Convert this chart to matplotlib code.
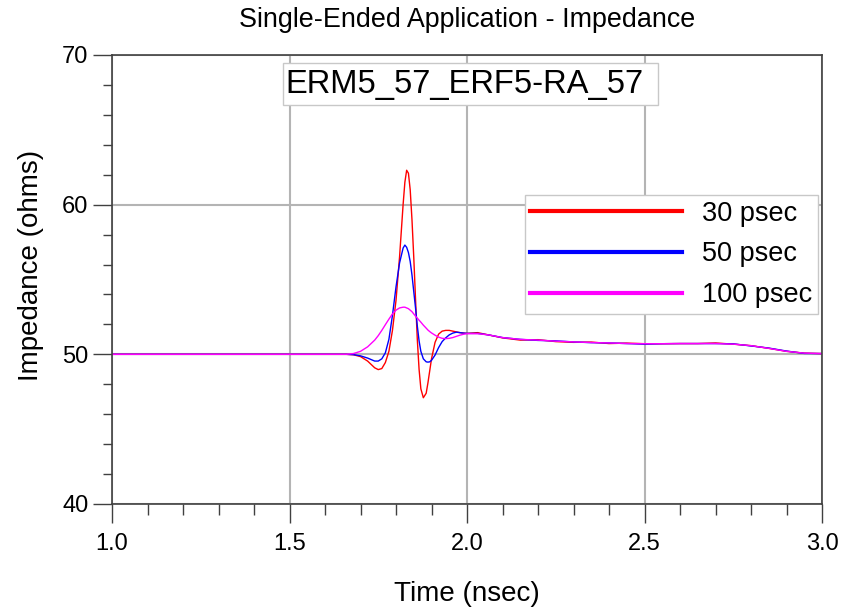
import numpy as np
import matplotlib
matplotlib.use('Agg')
import matplotlib.pyplot as plt
from matplotlib.lines import Line2D
from matplotlib.patches import Rectangle
from matplotlib.ticker import MultipleLocator

plt.rcParams['font.family'] = ['Liberation Sans', 'DejaVu Sans']

# time axis (nsec) shared by the three rise times
time_ns = [1.0, 1.5, 1.6, 1.64, 1.66, 1.68, 1.70, 1.72, 1.74, 1.75,
           1.76, 1.77, 1.78, 1.79, 1.80, 1.81, 1.82, 1.825, 1.83, 1.835,
           1.84, 1.845, 1.85, 1.855, 1.86, 1.865, 1.87, 1.877, 1.885, 1.89,
           1.895, 1.90, 1.91, 1.92, 1.93, 1.94, 1.95, 1.96, 1.97, 1.98,
           1.99, 2.0, 2.03, 2.06, 2.1, 2.15, 2.2, 2.25, 2.3, 2.35,
           2.4, 2.45, 2.5, 2.55, 2.6, 2.65, 2.7, 2.75, 2.8, 2.85,
           2.9, 2.95, 3.0]

z_30ps = [50.0, 50.0, 50.0, 50.0, 50.0, 49.97, 49.85, 49.55, 49.1, 48.98,
          49.05, 49.45, 50.2, 51.6, 53.6, 56.5, 60.0, 61.5, 62.3, 62.1,
          61.0, 59.0, 56.5, 53.7, 51.0, 49.0, 47.7, 47.1, 47.4, 48.1,
          48.9, 49.7, 50.8, 51.35, 51.55, 51.6, 51.6, 51.55, 51.5, 51.45,
          51.42, 51.4, 51.45, 51.3, 51.1, 50.95, 50.98, 50.85, 50.8, 50.82,
          50.72, 50.75, 50.71, 50.71, 50.72, 50.72, 50.76, 50.68, 50.58, 50.4,
          50.2, 50.08, 50.05]

z_50ps = [50.0, 50.0, 50.0, 50.0, 50.0, 49.98, 49.9, 49.75, 49.55, 49.55,
          49.7, 50.1, 51.0, 52.6, 54.5, 56.1, 57.1, 57.3, 57.15, 56.8,
          56.2, 55.3, 54.2, 53.1, 51.9, 50.9, 50.2, 49.7, 49.5, 49.48,
          49.5, 49.6, 49.95, 50.45, 50.85, 51.1, 51.3, 51.42, 51.48, 51.45,
          51.42, 51.4, 51.4, 51.3, 51.12, 51.0, 50.93, 50.9, 50.83, 50.78,
          50.76, 50.72, 50.68, 50.71, 50.72, 50.72, 50.72, 50.7, 50.56, 50.42,
          50.22, 50.06, 50.05]

z_100ps = [50.0, 50.0, 50.0, 50.0, 50.0, 50.05, 50.2, 50.5, 50.95, 51.25,
           51.6, 51.98, 52.35, 52.7, 52.95, 53.1, 53.15, 53.15, 53.1, 53.05,
           52.95, 52.85, 52.7, 52.55, 52.42, 52.28, 52.15, 51.95, 51.75, 51.62,
           51.52, 51.43, 51.28, 51.15, 51.07, 51.05, 51.07, 51.12, 51.2, 51.28,
           51.34, 51.38, 51.38, 51.3, 51.12, 51.0, 50.95, 50.88, 50.83, 50.79,
           50.76, 50.72, 50.71, 50.71, 50.72, 50.72, 50.72, 50.68, 50.58, 50.4,
           50.2, 50.08, 50.05]

labels = ['30 psec', '50 psec', '100 psec']
colors = ['#ff0000', '#0000ff', '#ff00ff']

fig = plt.figure(figsize=(8.44, 6.11), dpi=100)
ax = fig.add_axes([112/844, 1 - 504/611, 710/844, 449/611])

for z, c in zip([z_30ps, z_50ps, z_100ps], colors):
    ax.plot(time_ns, z, color=c, lw=1.0)

ax.set_xlim(1.0, 3.0)
ax.set_ylim(40, 70)
ax.xaxis.set_major_locator(MultipleLocator(0.5))
ax.xaxis.set_minor_locator(MultipleLocator(0.1))
ax.yaxis.set_major_locator(MultipleLocator(10))
ax.yaxis.set_minor_locator(MultipleLocator(2))
ax.xaxis.set_major_formatter(matplotlib.ticker.FormatStrFormatter('%.1f'))

ax.set_axisbelow(True)
ax.grid(True, which='major', color='#b4b4b4', lw=1.5)
for s in ax.spines.values():
    s.set_color('#404040')
    s.set_linewidth(1.2)

ax.tick_params(axis='x', which='major', length=14, width=1, color='#404040',
               pad=7, labelsize=17)
ax.tick_params(axis='x', which='minor', length=8, width=1, color='#404040')
ax.tick_params(axis='y', which='major', length=14, width=1, color='#404040',
               pad=3, labelsize=17)
ax.tick_params(axis='y', which='minor', length=6.5, width=1, color='#404040')

ax.set_title('Single-Ended Application - Impedance', fontsize=19.4, pad=20)
ax.set_xlabel('Time (nsec)', fontsize=20)
ax.xaxis.set_label_coords(0.5, -0.172)
ax.set_ylabel('Impedance (ohms)', fontsize=20)
ax.yaxis.set_label_coords(-0.096, 0.532)

# name box: text sits left in the box
ax.add_patch(Rectangle((0.2404, 0.8886), 0.529, 0.0929, transform=ax.transAxes,
                       fc='white', ec='#c8c8c8', lw=1, zorder=3))
ax.text(0.2437, 0.935, 'ERM5_57_ERF5-RA_57', transform=ax.transAxes,
        fontsize=23.6, ha='left', va='center', zorder=4)

handles = [Line2D([0], [0], color=c, lw=3) for c in colors]
leg = ax.legend(handles, labels, loc='upper left', bbox_to_anchor=(0.5817, 0.688),
                borderaxespad=0, borderpad=0.2, handlelength=5.6,
                handletextpad=0.75, labelspacing=0.55, fontsize=19.5,
                fancybox=False, framealpha=1, edgecolor='#c8c8c8')
leg.get_frame().set_linewidth(1)

fig.savefig('out.png', dpi=100)
